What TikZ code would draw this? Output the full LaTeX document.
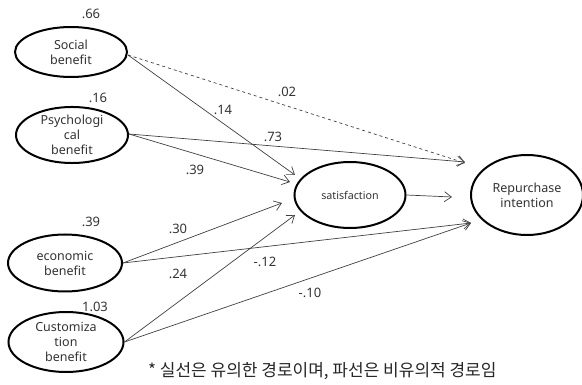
\documentclass[tikz,border=0pt]{standalone}
\usepackage{fontspec}
\setmainfont{Noto Sans}
\newfontfamily\kr{Noto Sans CJK KR}
\usetikzlibrary{shapes.geometric,arrows.meta}
\begin{document}
\begin{tikzpicture}[x=1pt,y=-1pt,
  lat/.style={draw=black,line width=2pt,ellipse,inner sep=0pt,align=center,
    font=\fontsize{12.5}{15}\selectfont,text=black!80},
  path/.style={draw=black!75,line width=0.7pt,-{Straight Barb[length=7pt,width=10pt]}},
  nsp/.style={path,dashed},
  coef/.style={font=\fontsize{13}{14}\selectfont,text=black!80,inner sep=0pt}]
\useasboundingbox (0,0) rectangle (582,385);
\node[lat,minimum width=112pt,minimum height=50pt] (soc) at (71,52) {Social\\benefit};
\node[lat,minimum width=112pt,minimum height=56pt] (psy) at (72,135) {Psychologi\\cal\\benefit};
\node[lat,minimum width=114pt,minimum height=57pt] (eco) at (65,263) {economic\\benefit};
\node[lat,minimum width=115pt,minimum height=60pt] (cus) at (66,342) {Customiza\\tion\\benefit};
\node[lat,minimum width=111pt,minimum height=66pt,font=\fontsize{10.7}{12}\selectfont] (sat) at (350,195) {satisfaction};
\node[lat,minimum width=112pt,minimum height=80pt] (rep) at (527,195) {Repurchase\\intention};

\node[coef] (v66) at (91,14) {.66};
\node[coef] (v16) at (98,98) {.16};
\node[coef] (v39) at (91,222) {.39};
\node[coef] (v103) at (95,307) {1.03};

\coordinate (s1) at (295,175);
\coordinate (s2) at (290,182);
\coordinate (s3) at (282,203);
\coordinate (s4) at (295,215);
\coordinate (r1) at (465,163);
\coordinate (r2) at (465,162);
\coordinate (r3) at (471,223);
\coordinate (r4) at (471,223);
\coordinate (r0) at (452,197);

\draw[path] (soc.east) ++(0,3) -- (s1);
\draw[nsp] (soc.east) ++(0,3) -- (r1);
\draw[path] ([yshift=1pt]psy.east) -- (r2);
\draw[path] ([yshift=1pt]psy.east) -- (s2);
\draw[path] (eco.east) -- (s3);
\draw[path] (eco.east) -- (r3);
\draw[path] (cus.east) -- (s4);
\draw[path] (cus.east) -- (r4);
\draw[path] (sat.east) -- (r0);

\node[coef] (c02) at (287,92) {.02};
\node[coef] (c14) at (223,110) {.14};
\node[coef] (c73) at (273,137) {.73};
\node[coef] (c39) at (195,170) {.39};
\node[coef] (c30) at (178,229) {.30};
\node[coef] (c24) at (178,274) {.24};
\node[coef] (c12) at (265,262) {-.12};
\node[coef] (c10) at (310,293) {-.10};

\node[font=\kr\fontsize{17}{18}\selectfont,text=black!85,anchor=west,inner sep=0pt] (note) at (148,371) {* 실선은 유의한 경로이며, 파선은 비유의적 경로임};
\end{tikzpicture}
\end{document}
